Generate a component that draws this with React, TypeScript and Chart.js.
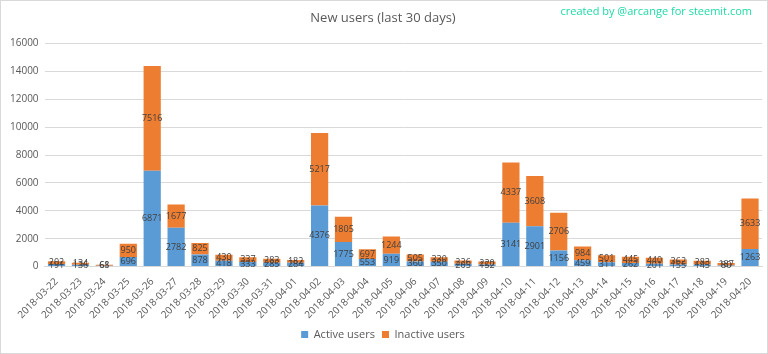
import React, { useEffect, useRef } from "react";
import { Chart, registerables } from "chart.js";

Chart.register(...registerables);

const categories = [
  "2018-03-22", "2018-03-23", "2018-03-24", "2018-03-25", "2018-03-26", "2018-03-27",
  "2018-03-28", "2018-03-29", "2018-03-30", "2018-03-31", "2018-04-01", "2018-04-02",
  "2018-04-03", "2018-04-04", "2018-04-05", "2018-04-06", "2018-04-07", "2018-04-08",
  "2018-04-09", "2018-04-10", "2018-04-11", "2018-04-12", "2018-04-13", "2018-04-14",
  "2018-04-15", "2018-04-16", "2018-04-17", "2018-04-18", "2018-04-19", "2018-04-20",
];

const activeUsers = [
  191, 136, 68, 696, 6871, 2782, 878, 418, 333, 285, 284, 4376, 1775, 553, 919,
  360, 350, 205, 152, 3141, 2901, 1156, 459, 311, 262, 201, 155, 145, 80, 1263,
];

const inactiveUsers = [
  202, 134, 61, 950, 7516, 1677, 825, 430, 337, 283, 182, 5217, 1805, 697, 1244,
  505, 330, 226, 220, 4337, 3608, 2706, 984, 501, 445, 440, 362, 283, 187, 3633,
];

const yTicks = [0, 2000, 4000, 6000, 8000, 10000, 12000, 14000, 16000];

const FONT = "'Open Sans', 'Noto Sans', sans-serif";

const labelsPlugin = {
  id: "segLabels",
  afterDatasetsDraw(chart: any) {
    const ctx = chart.ctx;
    ctx.save();
    ctx.font = `9px ${FONT}`;
    ctx.fillStyle = "#404040";
    ctx.textAlign = "center";
    ctx.textBaseline = "middle";
    chart.data.datasets.forEach((ds: any, di: number) => {
      const meta = chart.getDatasetMeta(di);
      meta.data.forEach((el: any, i: number) => {
        const v = ds.data[i];
        const cy = (el.y + el.base) / 2;
        ctx.fillText(String(v), el.x, cy);
      });
    });
    ctx.restore();
  },
  afterDraw(chart: any) {
    const ctx = chart.ctx;
    ctx.save();
    ctx.font = `11px ${FONT}`;
    ctx.fillStyle = "#1ddca6";
    ctx.textAlign = "right";
    ctx.textBaseline = "middle";
    ctx.fillText("created by @arcange for steemit.com", 752, 12);
    ctx.strokeStyle = "#d9d9d9";
    ctx.lineWidth = 1;
    ctx.strokeRect(0.5, 0.5, chart.width - 1, chart.height - 1);
    ctx.restore();
  },
};

export default function App() {
  const ref = useRef<HTMLCanvasElement | null>(null);
  useEffect(() => {
    document.body.style.margin = "0";
    const canvas = ref.current!;
    const chart = new Chart(canvas, {
      type: "bar",
      data: {
        labels: categories,
        datasets: [
          {
            label: "Active users",
            data: activeUsers,
            backgroundColor: "#5b9bd5",
            barPercentage: 0.72,
            categoryPercentage: 1,
          },
          {
            label: "Inactive users",
            data: inactiveUsers,
            backgroundColor: "#ed7d31",
            barPercentage: 0.72,
            categoryPercentage: 1,
          },
        ],
      },
      options: {
        responsive: false,
        animation: false,
        devicePixelRatio: 1,
        layout: { padding: { left: 4, right: 6, top: 0, bottom: 4 } },
        plugins: {
          title: {
            display: true,
            text: "New users (last 30 days)",
            color: "#595959",
            font: { family: FONT, size: 13, weight: "normal" },
            padding: { top: 10, bottom: 18 },
          },
          legend: {
            position: "bottom",
            labels: {
              boxWidth: 7,
              boxHeight: 7,
              color: "#595959",
              font: { family: FONT, size: 11 },
              padding: 7,
            },
          },
          tooltip: { enabled: false },
        },
        scales: {
          x: {
            stacked: true,
            grid: { display: false },
            border: { color: "#d9d9d9" },
            ticks: {
              color: "#595959",
              font: { family: FONT, size: 10 },
              maxRotation: 45,
              minRotation: 45,
              autoSkip: false,
              padding: 1,
            },
          },
          y: {
            stacked: true,
            min: 0,
            max: 16000,
            afterBuildTicks: (axis: any) => {
              axis.ticks = yTicks.map((v) => ({ value: v }));
            },
            grid: { color: "#d9d9d9", drawTicks: false },
            border: { display: false },
            ticks: {
              color: "#595959",
              font: { family: FONT, size: 10 },
              padding: 6,
              callback: (v: any) => String(v),
            },
          },
        },
      },
      plugins: [labelsPlugin],
    } as any);
    return () => chart.destroy();
  }, []);
  return (
    <div style={{ width: 768, height: 354 }}>
      <canvas ref={ref} width={768} height={354} />
    </div>
  );
}
